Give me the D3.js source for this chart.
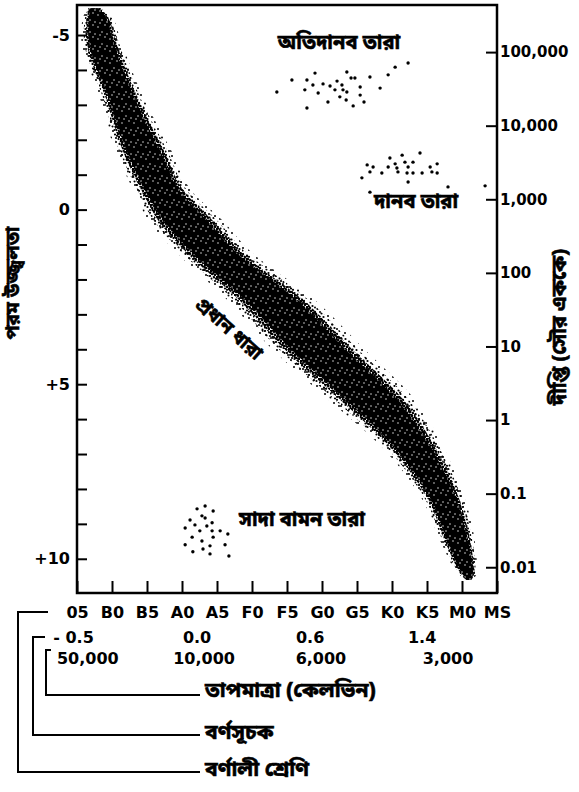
<!DOCTYPE html>
<html>
<head>
<meta charset="utf-8">
<script src="https://cdn.jsdelivr.net/npm/d3@7"></script>
<style>
  body { margin: 0; background: white; }
  text { font-family: "DejaVu Sans", sans-serif; font-weight: bold; }
  .bn { font-family: "Noto Sans Bengali", "Noto Serif Bengali", "Lohit Bengali", "FreeSans", sans-serif; font-weight: bold; stroke: black; stroke-width: 0.6px; }
</style>
</head>
<body>
<main></main>
<script>
// spectral classes along the bottom
let spectralClasses = ["05", "B0", "B5", "A0", "A5", "F0", "F5", "G0", "G5", "K0", "K5", "M0", "MS"]

// colour index and temperature, with where they fall on the spectral sequence (0 = 05, 12 = MS)
let colorIndexLabels = ["- 0.5", "0.0", "0.6", "1.4"]
let colorIndexAt = [-0.1, 3.43, 6.66, 9.86]
let tempLabels = ["50,000", "10,000", "6,000", "3,000"]
let tempAt = [0.31, 3.63, 6.97, 10.6]

// absolute magnitude ticks (left) and luminosity ticks (right)
let magTicks = [-5, -4, -3, -2, -1, 0, 1, 2, 3, 4, 5, 6, 7, 8, 9, 10]
let magLabels = {"-5": "-5", "0": "0", "5": "+5", "10": "+10"}
let lumTicks = [100000, 10000, 1000, 100, 10, 1, 0.1, 0.01]
let lumLabels = ["100,000", "10,000", "1,000", "100", "10", "1", "0.1", "0.01"]

// main sequence band: magnitude, left and right edge (spectral position)
let msMag   = [-5.77, -5.43, -5.00, -3.14, -1.71, -0.48, 0.30, 1.16, 2.59, 4.02, 5.37, 6.80, 8.23, 9.66, 10.38, 10.61]
let msLeft  = [0.31, 0.20, 0.17, 0.74, 1.17, 1.74, 2.14, 2.89, 4.43, 5.74, 7.23, 8.80, 9.89, 10.51, 10.89, 11.09]
let msRight = [0.71, 1.00, 1.14, 1.86, 2.60, 3.23, 4.03, 4.80, 6.66, 8.09, 9.46, 10.37, 11.00, 11.34, 11.40, 11.29]

// supergiants [spectral position, magnitude]
let superGiants = [
  [5.71, -3.37], [6.14, -3.71], [6.57, -2.91], [6.57, -3.71], [6.51, -3.43], [6.80, -3.91],
  [6.74, -3.57], [6.89, -3.34], [7.03, -3.60], [7.17, -3.08], [7.23, -3.54], [7.37, -3.43],
  [7.43, -3.68], [7.51, -3.23], [7.57, -3.57], [7.60, -3.43], [7.71, -3.94], [7.71, -3.37],
  [7.69, -3.14], [7.83, -3.77], [7.94, -3.77], [7.89, -2.97], [8.09, -3.51], [8.09, -3.28],
  [8.20, -3.08], [8.37, -3.80], [8.66, -3.48], [8.89, -3.86], [9.09, -4.08], [9.46, -4.20]
]

// giants
let giants = [
  [8.14, -0.91], [8.29, -1.28], [8.37, -1.08], [8.46, -1.22], [8.37, -0.50], [8.71, -1.05],
  [8.89, -1.22], [8.94, -1.48], [9.09, -1.31], [9.14, -1.19], [9.17, -1.08], [9.29, -1.56],
  [9.37, -1.36], [9.43, -1.05], [9.46, -1.22], [9.46, -0.79], [9.60, -1.36], [9.60, -1.05],
  [9.80, -1.62], [9.86, -1.05], [10.09, -1.22], [10.14, -1.08], [10.29, -1.31], [10.29, -1.05],
  [10.60, -0.65], [11.66, -0.68]
]

// white dwarfs
let whiteDwarfs = [
  [3.43, 8.57], [3.66, 8.49], [3.89, 8.63], [3.57, 8.77], [3.66, 8.83], [3.23, 8.89],
  [3.86, 8.97], [3.37, 9.03], [3.71, 9.06], [3.09, 9.12], [3.51, 9.20], [3.86, 9.20],
  [4.09, 9.20], [4.31, 9.29], [3.29, 9.38], [3.89, 9.38], [3.57, 9.49], [3.09, 9.60],
  [3.80, 9.63], [4.23, 9.60], [3.31, 9.80], [3.60, 9.72], [3.80, 9.86], [4.34, 9.92]
]

//dimensions
const svgWidth = 579
const svgHeight = 792
const plotLeft = 77
const plotRight = 497
const plotTop = 5
const plotBottom = 593

let svg = d3.select("main")
    .append("svg")
    .attr("width", svgWidth)
    .attr("height", svgHeight)
    .style("background-color", "white")

//scales
let xScale = d3.scalePoint().domain(spectralClasses).range([plotLeft, plotRight])
let posScale = d3.scaleLinear().domain([0, spectralClasses.length - 1]).range([plotLeft, plotRight])
let yScale = d3.scaleLinear().domain([-5.86, 10.98]).range([plotTop, plotBottom])
let lumScale = d3.scaleLog().domain([Math.pow(10, 5.64), Math.pow(10, -2.35)]).range([plotTop, plotBottom])

//patterns for the speckled band
let defs = svg.append("defs")
function dotPattern(id, size, pts, r, colour) {
  let p = defs.append("pattern").attr("id", id)
      .attr("patternUnits", "userSpaceOnUse").attr("width", size).attr("height", size)
  p.selectAll("circle")
      .data(pts)
      .enter().append("circle")
      .attr("cx", d => d[0]).attr("cy", d => d[1]).attr("r", r).style("fill", colour)
}
dotPattern("fringe", 17, [[2, 3], [9, 1.5], [14, 6], [5, 10], [11, 12], [16, 15], [1, 15], [7.5, 6.5]], 1.0, "black")
dotPattern("sparse", 11, [[1, 1], [5, 2.5], [2.5, 5.5], [8.5, 7], [7, 3.8], [4.5, 9], [9.5, 1], [0.5, 8.5], [6, 6]], 1.1, "black")
dotPattern("dense", 6, [[1, 1], [4, 1.8], [2.2, 4], [5, 4.8], [0.5, 3], [3.2, 0.2]], 1.3, "black")
dotPattern("holes", 12, [[2, 3], [9, 1], [6, 8], [11, 10], [4, 11]], 0.7, "white")

//main sequence band
let msData = msMag.map((m, i) => ({mag: m, left: msLeft[i], right: msRight[i]}))

function bandArea(inset) {
  return d3.area()
    .y(d => yScale(d.mag))
    .x0(d => posScale(d.left + (d.right - d.left) * inset))
    .x1(d => posScale(d.right - (d.right - d.left) * inset))
    .curve(d3.curveMonotoneY)
}

svg.append("path").datum(msData).attr("d", bandArea(-0.06)).style("fill", "url(#fringe)")
svg.append("path").datum(msData).attr("d", bandArea(0.02)).style("fill", "url(#sparse)")
svg.append("path").datum(msData).attr("d", bandArea(0.09)).style("fill", "url(#dense)")
svg.append("path").datum(msData).attr("d", bandArea(0.17)).style("fill", "black")
svg.append("path").datum(msData).attr("d", bandArea(0.17)).style("fill", "url(#holes)")

//star groups
function drawDots(points) {
  svg.append("g")
    .selectAll("circle")
    .data(points)
    .enter()
    .append("circle")
    .attr("cx", d => posScale(d[0]))
    .attr("cy", d => yScale(d[1]))
    .attr("r", 1.7)
    .style("fill", "black")
}
drawDots(superGiants)
drawDots(giants)
drawDots(whiteDwarfs)

//axes
let leftAxis = svg.append("g")
    .attr("transform", `translate(${plotLeft}, 0)`)
    .call(d3.axisLeft(yScale).tickValues(magTicks).tickSize(-10).tickPadding(7)
      .tickFormat(d => magLabels[d] || ""))

let rightAxis = svg.append("g")
    .attr("transform", `translate(${plotRight}, 0)`)
    .call(d3.axisRight(lumScale).tickValues(lumTicks).tickSize(-11).tickPadding(3)
      .tickFormat((d, i) => lumLabels[i]))

let bottomAxis = svg.append("g")
    .attr("transform", `translate(0, ${plotBottom})`)
    .call(d3.axisBottom(xScale).tickSize(-12).tickPadding(14))

for (let ax of [leftAxis, rightAxis, bottomAxis]) {
  ax.select(".domain").remove()
  ax.selectAll("line").style("stroke", "black").style("stroke-width", 2)
  ax.selectAll("text").style("fill", "black").style("font-size", "16px")
    .style("font-family", "DejaVu Sans").style("font-weight", "bold")
}
rightAxis.selectAll("text").style("font-size", "15px")

//frame
svg.append("rect")
    .attr("x", plotLeft).attr("y", plotTop)
    .attr("width", plotRight - plotLeft).attr("height", plotBottom - plotTop)
    .style("fill", "none").style("stroke", "black").style("stroke-width", 2.5)

//colour index and temperature rows
svg.append("g").selectAll("text")
    .data(colorIndexLabels)
    .enter().append("text")
    .attr("x", (d, i) => posScale(colorIndexAt[i]))
    .attr("y", 643)
    .attr("text-anchor", "middle")
    .style("font-size", "16px")
    .text(d => d)

svg.append("g").selectAll("text")
    .data(tempLabels)
    .enter().append("text")
    .attr("x", (d, i) => posScale(tempAt[i]))
    .attr("y", 664)
    .attr("text-anchor", "middle")
    .style("font-size", "16px")
    .text(d => d)

//brackets linking the rows to their names
let brackets = [
  {path: "M48,612 H18 V772 H200", label: "বর্ণালী শ্রেণি", y: 772},
  {path: "M45,637 H33 V735 H200", label: "বর্ণসূচক", y: 735},
  {path: "M51,650 H46 V695 H200", label: "তাপমাত্রা (কেলভিন)", y: 693}
]
svg.append("g").selectAll("path")
    .data(brackets)
    .enter().append("path")
    .attr("d", d => d.path)
    .style("fill", "none").style("stroke", "black").style("stroke-width", 2)
svg.append("g").selectAll("text")
    .data(brackets)
    .enter().append("text")
    .attr("class", "bn")
    .attr("x", 205)
    .attr("y", d => d.y - 1)
    .attr("dominant-baseline", "central")
    .style("font-size", "21px")
    .text(d => d.label)

//group labels
svg.append("text").attr("class", "bn")
    .attr("x", 339).attr("y", 44).attr("text-anchor", "middle").attr("dominant-baseline", "central")
    .style("font-size", "20px").text("অতিদানব তারা")
svg.append("text").attr("class", "bn")
    .attr("x", 416).attr("y", 203).attr("text-anchor", "middle").attr("dominant-baseline", "central")
    .style("font-size", "20px").text("দানব তারা")
svg.append("text").attr("class", "bn")
    .attr("x", 302).attr("y", 521).attr("text-anchor", "middle").attr("dominant-baseline", "central")
    .style("font-size", "20px").text("সাদা বামন তারা")
svg.append("text").attr("class", "bn")
    .attr("transform", "translate(228, 330) rotate(42)")
    .attr("text-anchor", "middle").attr("dominant-baseline", "central")
    .style("font-size", "19px").text("প্রধান ধারা")

//axis titles
svg.append("text").attr("class", "bn")
    .attr("transform", "translate(14, 283) rotate(-90)")
    .attr("text-anchor", "middle").attr("dominant-baseline", "central")
    .style("font-size", "19px").text("পরম উজ্জ্বলতা")
svg.append("text").attr("class", "bn")
    .attr("transform", "translate(561, 327) rotate(-90)")
    .attr("text-anchor", "middle").attr("dominant-baseline", "central")
    .style("font-size", "20px").text("দীপ্তি (সৌর এককে)")
</script>
</body>
</html>
